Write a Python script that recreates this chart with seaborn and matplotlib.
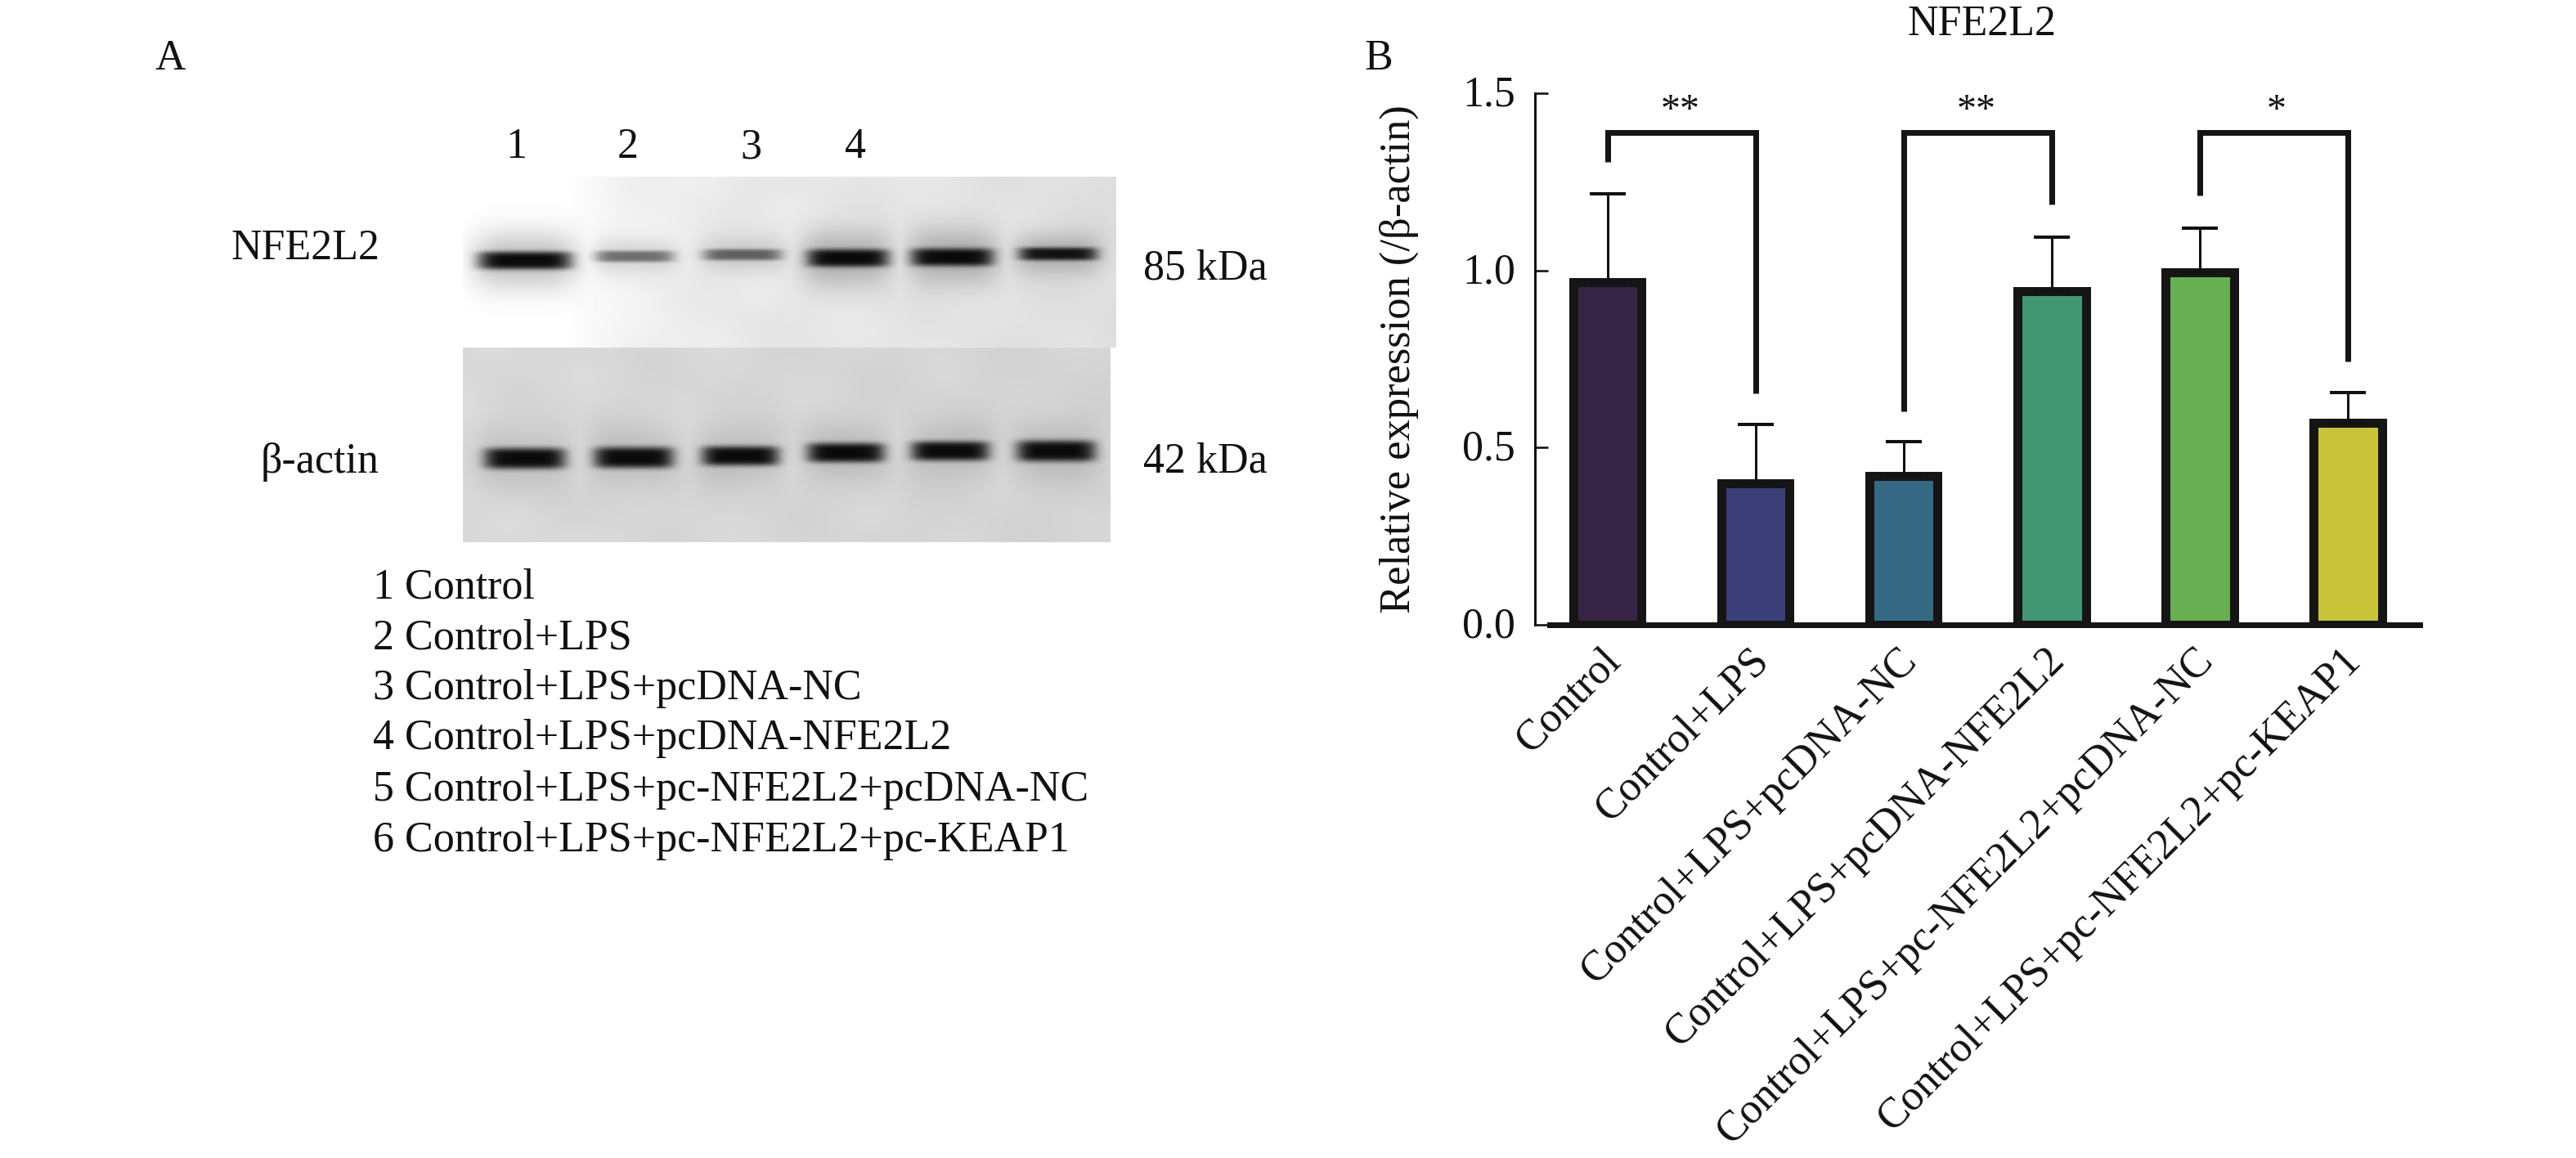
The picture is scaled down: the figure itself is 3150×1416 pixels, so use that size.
import numpy as np
import pandas as pd
import matplotlib
matplotlib.use("Agg")
import matplotlib.pyplot as plt
import matplotlib.transforms as mtrans
import seaborn as sns

# ── Data ─────────────────────────────────────────────────────────────────────
groups = ["Control", "Control+LPS", "Control+LPS+pcDNA-NC", "Control+LPS+pcDNA-NFE2L2",
          "Control+LPS+pc-NFE2L2+pcDNA-NC", "Control+LPS+pc-NFE2L2+pc-KEAP1"]
expression = [0.966, 0.400, 0.420, 0.942, 0.994, 0.571]
expression_sd = [0.251, 0.165, 0.098, 0.153, 0.126, 0.084]
bar_colors = ["#352444", "#3c3e78", "#366a84", "#429674", "#68ae52", "#c9c33c"]
yticks = [0.0, 0.5, 1.0, 1.5]

# significance: first bar, second bar, leg ends, stars
sig_left = [0, 2, 4]
sig_right = [1, 3, 5]
sig_left_end = [1.306, 0.603, 1.212]
sig_right_end = [0.652, 1.186, 0.744]
sig_top = 1.39
sig_stars = ["**", "**", "*"]

lane_numbers = ["1", "2", "3", "4"]
legend_lines = ["1 Control", "2 Control+LPS", "3 Control+LPS+pcDNA-NC", "4 Control+LPS+pcDNA-NFE2L2",
                "5 Control+LPS+pc-NFE2L2+pcDNA-NC", "6 Control+LPS+pc-NFE2L2+pc-KEAP1"]

# blot band strength per lane
nfe2l2_bands = [1.0, 0.5, 0.55, 1.0, 1.0, 0.95]
actin_bands = [1.0, 1.0, 1.0, 1.0, 1.0, 1.0]

# ── Config ───────────────────────────────────────────────────────────────────
W, H = 3150, 1416
PX = 72 / 300  # one output pixel in points
sns.set_style("ticks")
plt.rcParams["font.family"] = ["Liberation Serif", "DejaVu Sans"]
FS = 12.48
INK = "#111111"

fig = plt.figure(figsize=(W / 300, H / 300), dpi=300)


def px_axes(x0, y0, x1, y1):
    return fig.add_axes([x0 / W, 1 - y1 / H, (x1 - x0) / W, (y1 - y0) / H])


def px_text(x, y, s, **kw):
    kw.setdefault("fontsize", FS)
    kw.setdefault("color", INK)
    kw.setdefault("va", "center")
    fig.text(x / W, 1 - y / H, s, **kw)


def blot(x0, y0, x1, y1, strengths, lanes, centers, half_h, bg_x, bg_v, halo):
    xs = np.arange(x0, x1)
    ys = np.arange(y0, y1)
    xx, yy = np.meshgrid(xs, ys)
    img = np.interp(xx, bg_x, bg_v)
    # soft mottling of the membrane, only where it is not already blown out
    img = img - 0.006 * (img < 0.97) * (np.sin(xx / 23.0 + yy / 41.0) + np.sin(xx / 37.0 - yy / 17.0))
    dark = np.zeros_like(img)
    hz = np.zeros_like(img)
    for s, (a, b), c, h in zip(strengths, lanes, centers, half_h):
        mid, hw = (a + b) / 2, (b - a) / 2
        dark = np.maximum(dark, s * np.exp(-((xx - mid) / hw) ** 6) * np.exp(-((yy - c) / h) ** 4))
        hz = np.maximum(hz, s * np.exp(-((xx - mid) / (hw * 1.15)) ** 4) * np.exp(-((yy - c) / (h * 3.2)) ** 2))
    img = img * (1 - halo * hz) * (1 - dark) + 0.04 * dark
    ax = px_axes(x0, y0, x1, y1)
    sns.heatmap(np.clip(img, 0, 1), ax=ax, cmap="gray", vmin=0, vmax=1, cbar=False,
                xticklabels=False, yticklabels=False, linewidths=0, rasterized=True)
    ax.tick_params(left=False, bottom=False)
    return img


# ── Panel A: blots ───────────────────────────────────────────────────────────
blot(566, 216, 1365, 425, nfe2l2_bands,
     [(585, 698), (728, 823), (860, 955), (987, 1086), (1114, 1214), (1246, 1341)],
     [318, 313, 311, 315, 314, 310], [11, 7, 7, 11, 11, 8],
     [566, 690, 760, 900, 1100, 1365], [1.0, 1.0, 0.95, 0.91, 0.90, 0.87], 0.25)
blot(566, 425, 1358, 663, actin_bands,
     [(592, 691), (726, 823), (858, 952), (987, 1081), (1114, 1209), (1243, 1339)],
     [560, 559, 557, 553, 551, 551], [13, 13, 12, 12, 12, 13],
     [566, 900, 1358], [0.85, 0.84, 0.83], 0.12)

for s, x in zip(lane_numbers, [631, 768, 918, 1046]):
    px_text(x, 180, s, ha="center")
px_text(464, 304, "NFE2L2", ha="right")
px_text(464, 565, "β-actin", ha="right")
px_text(1398, 329, "85 kDa", ha="left")
px_text(1398, 564, "42 kDa", ha="left")
for s, y in zip(legend_lines, [718, 780, 842, 903, 966, 1028]):
    px_text(456, y, s, ha="left")
px_text(189, 72, "A", ha="left")
px_text(1668, 72, "B", ha="left")
px_text(2423, 30, "NFE2L2", ha="center")

# ── Panel B: bars ────────────────────────────────────────────────────────────
ax = px_axes(1877, 114, 2959, 764)
df = pd.DataFrame({"group": groups, "expression": expression})
sns.barplot(data=df, x="group", y="expression", hue="group", palette=bar_colors, legend=False,
            errorbar=None, width=0.46, linewidth=11 * PX, edgecolor="#151515", saturation=1,
            ax=ax, zorder=2)
ax.errorbar(range(len(groups)), expression, yerr=[np.zeros(len(groups)), expression_sd], fmt="none",
            ecolor=INK, elinewidth=3 * PX, capsize=22 * PX, capthick=4 * PX, zorder=3)

for a, b, le, re, st in zip(sig_left, sig_right, sig_left_end, sig_right_end, sig_stars):
    ax.plot([a, a, b, b], [le, sig_top, sig_top, re], color="#151515", lw=7 * PX,
            solid_joinstyle="miter", solid_capstyle="butt", zorder=4, clip_on=False)
    ax.text((a + b) / 2 - 0.01 if st == "**" else (a + b) / 2 + 0.015, 1.45, st, ha="center", va="center",
            fontsize=11.5, color=INK)

ax.set_xlim(-0.49, 5.486)
ax.set_ylim(0, 1.5)
ax.set_yticks(yticks)
ax.set_yticklabels([f"{v:.1f}" for v in yticks], fontsize=FS, color=INK)
ax.set_xticks(range(len(groups)))
ax.set_xticklabels(groups, rotation=45, ha="right", rotation_mode="anchor", fontsize=FS, color=INK)
ax.set_xlabel("")
ax.set_ylabel("Relative expression (/β-actin)", fontsize=12.6, color=INK)
ax.yaxis.set_label_coords((1735 - 1877) / (2959 - 1877), 0.5)
ax.tick_params(axis="y", direction="in", length=16 * PX, width=2.6 * PX, pad=24 * PX, color=INK)
ax.tick_params(axis="x", direction="in", length=11 * PX, width=2.2 * PX, pad=22 * PX, color=INK)

# tick_params resets label transforms, so nudge the labels afterwards
shift = mtrans.ScaledTranslation(-8 / 300, 3 / 300, fig.dpi_scale_trans)
for lab in ax.get_xticklabels():
    lab.set_transform(lab.get_transform() + shift)
up = mtrans.ScaledTranslation(0, 3 / 300, fig.dpi_scale_trans)
for lab in ax.get_yticklabels():
    lab.set_transform(lab.get_transform() + up)

sns.despine(ax=ax)
ax.spines["left"].set_linewidth(3 * PX)
ax.spines["left"].set_color(INK)
ax.spines["bottom"].set_linewidth(7 * PX)
ax.spines["bottom"].set_color("#151515")
ax.spines["bottom"].set_bounds(-0.39, 5.486)
ax.set_facecolor("none")

fig.savefig("out.png", dpi=300)
plt.close(fig)
